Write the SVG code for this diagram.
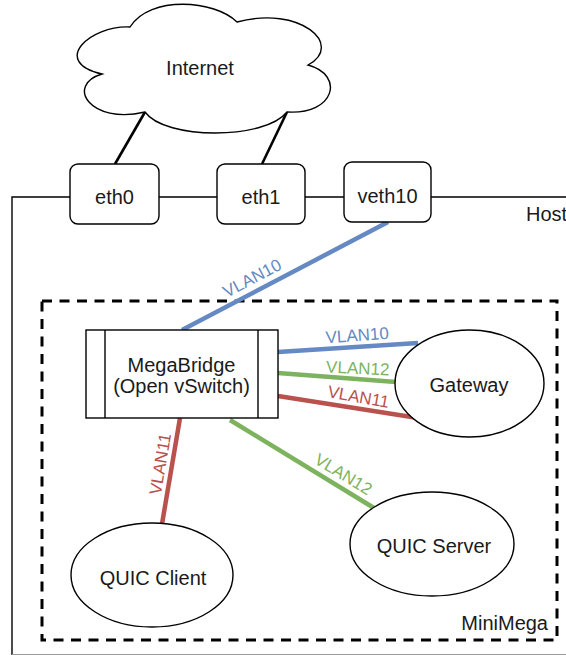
<svg xmlns="http://www.w3.org/2000/svg" width="566" height="655" viewBox="0 0 566 655">
  <style>
    .lbl { font-family: "Liberation Sans", Arial, sans-serif; font-size: 20px; fill: #1a1a1a; }
    .mid { text-anchor: middle; }
    .box { fill: #ffffff; stroke: #000000; stroke-width: 1.4; }
    .thin { fill: none; stroke: #000000; stroke-width: 1.4; }
    .link { fill: none; stroke-width: 4.5; stroke-linecap: butt; }
    .blue { stroke: #6489C3; }
    .green { stroke: #7DB35E; }
    .red { stroke: #B9514D; }
    .vlan { font-family: "Liberation Sans", Arial, sans-serif; font-size: 17px; text-anchor: middle; }
    .tb { fill: #6489C3; }
    .tg { fill: #7DB35E; }
    .tr { fill: #B9514D; }
  </style>

  <rect width="566" height="655" fill="#ffffff"/>

  <!-- Host boundary (extends past the right and bottom edges) -->
  <g id="host">
    <path class="thin" d="M 70 197 H 12 V 655"/>
    <path class="thin" d="M 159 197 H 217 M 305 197 H 344 M 431 197 H 566"/>
    <line x1="12" y1="654.5" x2="566" y2="654.5" stroke="#9a9a9a" stroke-width="1"/>
    <text class="lbl" x="526" y="221">Host</text>
  </g>

  <!-- MiniMega container -->
  <g id="minimega">
    <rect x="42" y="301" width="515" height="339" fill="none" stroke="#000000" stroke-width="3" stroke-dasharray="10 7.5"/>
    <text class="lbl" x="548" y="630" text-anchor="end">MiniMega</text>
  </g>

  <!-- Connectors -->
  <g id="connectors">
    <line x1="145" y1="112" x2="115" y2="164" stroke="#000000" stroke-width="2.6"/>
    <line x1="287" y1="112" x2="262" y2="164" stroke="#000000" stroke-width="2.6"/>

    <line class="link blue" x1="388" y1="222" x2="182" y2="330"/>
    <line class="link blue" x1="278" y1="352" x2="418" y2="343"/>
    <line class="link green" x1="278" y1="373" x2="396" y2="382"/>
    <line class="link red" x1="278" y1="396" x2="418" y2="418"/>
    <line class="link red" x1="180" y1="418" x2="162" y2="524"/>
    <line class="link green" x1="230" y1="420" x2="374" y2="508"/>

    <text class="vlan tb" transform="translate(254.8,283.3) rotate(-27.7)">VLAN10</text>
    <text class="vlan tb" transform="translate(357.5,341) rotate(-4)">VLAN10</text>
    <text class="vlan tg" transform="translate(357.5,374) rotate(2.5)">VLAN12</text>
    <text class="vlan tr" transform="translate(357.5,402.5) rotate(10)">VLAN11</text>
    <text class="vlan tr" transform="translate(165.9,465) rotate(-80.3)">VLAN11</text>
    <text class="vlan tg" transform="translate(340.4,479.1) rotate(31.3)">VLAN12</text>
  </g>

  <!-- Internet cloud -->
  <g id="internet">
    <path class="box" d="M 130 27 C 90 25, 50 62, 102 74 C 65 85, 90 125, 145 112 C 165 140, 265 140, 287 112 C 335 115, 345 75, 308 65 C 345 45, 300 5, 237 22 C 215 0, 150 -5, 130 27 Z"/>
    <text class="lbl mid" x="200" y="75" font-size="15.5">Internet</text>
  </g>

  <g id="eth0">
    <rect class="box" x="70" y="164" width="89" height="60" rx="8"/>
    <text class="lbl mid" x="114.5" y="204">eth0</text>
  </g>

  <g id="eth1">
    <rect class="box" x="217" y="164" width="88" height="60" rx="8"/>
    <text class="lbl mid" x="261" y="204">eth1</text>
  </g>

  <g id="veth10">
    <rect class="box" x="344" y="162" width="87" height="60" rx="8"/>
    <text class="lbl mid" x="387.5" y="203">veth10</text>
  </g>

  <g id="megabridge">
    <rect class="box" x="86" y="330" width="192" height="88"/>
    <line class="thin" x1="105" y1="330" x2="105" y2="418"/>
    <line class="thin" x1="258" y1="330" x2="258" y2="418"/>
    <text class="lbl mid" x="181.5" y="372">MegaBridge</text>
    <text class="lbl mid" x="181.5" y="393">(Open vSwitch)</text>
  </g>

  <g id="gateway">
    <ellipse class="box" cx="469.5" cy="383.5" rx="74.5" ry="53.5"/>
    <text class="lbl mid" x="469" y="392">Gateway</text>
  </g>

  <g id="quic-server">
    <ellipse class="box" cx="432" cy="544" rx="82" ry="52"/>
    <text class="lbl mid" x="434" y="553">QUIC Server</text>
  </g>

  <g id="quic-client">
    <ellipse class="box" cx="152" cy="575" rx="81" ry="52"/>
    <text class="lbl mid" x="153" y="585">QUIC Client</text>
  </g>
</svg>
